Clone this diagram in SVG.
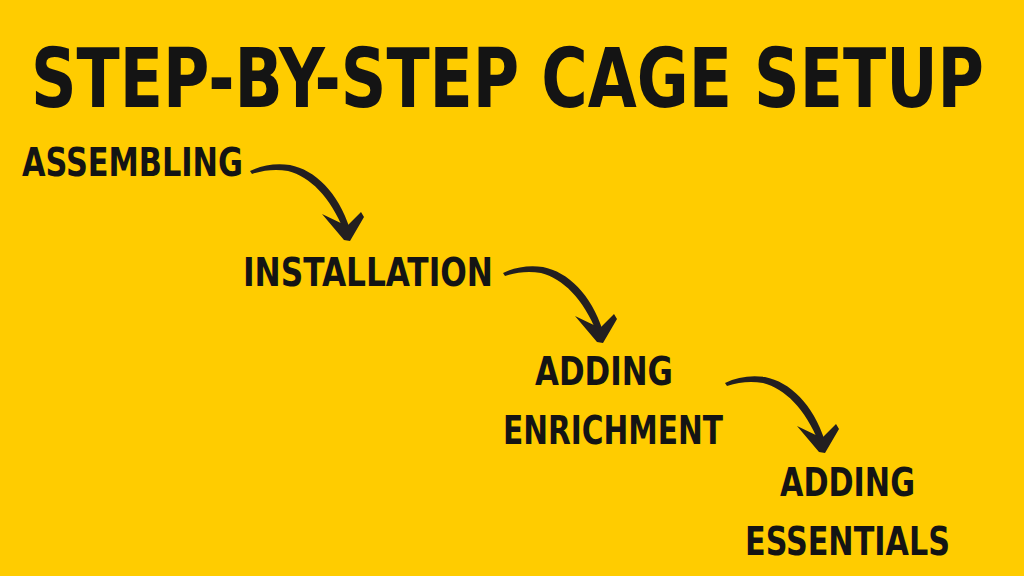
<svg xmlns="http://www.w3.org/2000/svg" xmlns:xlink="http://www.w3.org/1999/xlink" width="1024" height="576" viewBox="0 0 1024 576">
  <style>
    .t { font-family: "DejaVu Sans Condensed", "Liberation Sans", sans-serif; font-weight: bold; fill: #141414; }
    .title { font-size: 69px; }
    .lbl { font-size: 39px; }
    .arrow { fill: #231f20; }
  </style>
  <defs>
    <g id="brushArrow">
      <path class="arrow" d="M250,171 C 262,165 276,163 290,165 C 315,170 338,192 350,229 L 344,231 C 330,196 310,177 288,171 C 276,169 264,170 252,174 Z"/>
      <polygon class="arrow" points="322,214 347,226 361,212 364,217 350,241 344,240"/>
    </g>
  </defs>
  <rect x="0" y="0" width="1024" height="576" fill="#FFCC00"/>

  <g id="title" transform="translate(31,107) scale(1,1.18)">
    <text class="t title" x="0" y="0" textLength="953" lengthAdjust="spacingAndGlyphs">STEP-BY-STEP CAGE SETUP</text>
  </g>

  <g id="node-assembling">
    <text class="t lbl" x="22" y="176" textLength="221" lengthAdjust="spacingAndGlyphs">ASSEMBLING</text>
  </g>
  <g id="node-installation">
    <text class="t lbl" x="243" y="286" textLength="250" lengthAdjust="spacingAndGlyphs">INSTALLATION</text>
  </g>
  <g id="node-enrichment">
    <text class="t lbl" x="535" y="385" textLength="138" lengthAdjust="spacingAndGlyphs">ADDING</text>
    <text class="t lbl" x="503" y="444" textLength="220" lengthAdjust="spacingAndGlyphs">ENRICHMENT</text>
  </g>
  <g id="node-essentials">
    <text class="t lbl" x="780" y="496" textLength="135" lengthAdjust="spacingAndGlyphs">ADDING</text>
    <text class="t lbl" x="745" y="555" textLength="205" lengthAdjust="spacingAndGlyphs">ESSENTIALS</text>
  </g>

  <g id="connectors">
    <use xlink:href="#brushArrow" href="#brushArrow"/>
    <use xlink:href="#brushArrow" href="#brushArrow" transform="translate(253,102)"/>
    <use xlink:href="#brushArrow" href="#brushArrow" transform="translate(475,212)"/>
  </g>
</svg>
